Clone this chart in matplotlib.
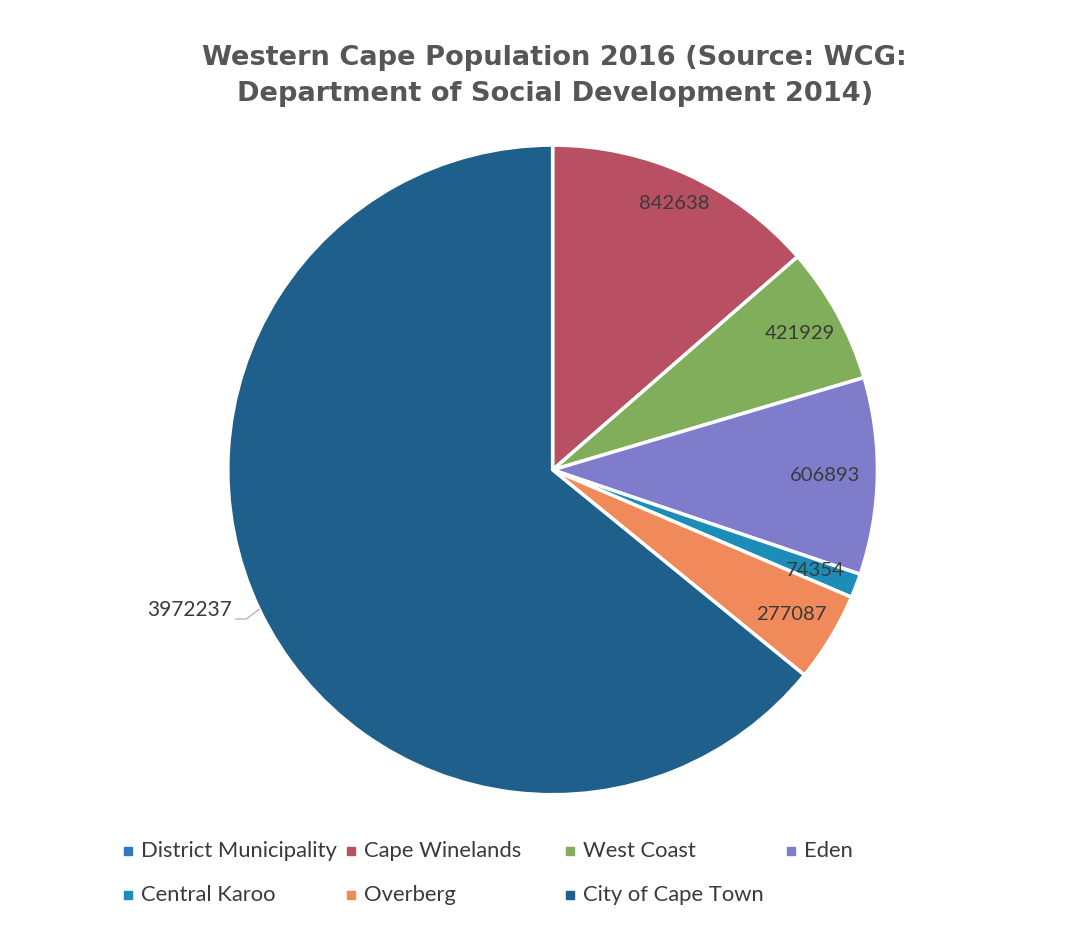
import numpy as np
import matplotlib.pyplot as plt
from matplotlib.patches import Rectangle

# Population par district (WCG, 2014)
districts = ["District Municipality", "Cape Winelands", "West Coast", "Eden",
             "Central Karoo", "Overberg", "City of Cape Town"]
population = [0, 842638, 421929, 606893, 74354, 277087, 3972237]
couleurs = ["#2f78c2", "#b84f63", "#80ae5a", "#7f7dcb",
            "#1b8db8", "#f08a5a", "#1f5f8b"]

fig = plt.figure(figsize=(10.9, 9.25), dpi=100)
ax = fig.add_axes([0.209, 0.1405, 0.596, 0.703])

# Les secteurs vides ne sont pas tracés (mais restent dans la légende)
vals = [v for v in population if v > 0]
cols = [c for v, c in zip(population, couleurs) if v > 0]

wedges, _ = ax.pie(vals, colors=cols, startangle=90, counterclock=False,
                   radius=1.0, wedgeprops=dict(edgecolor='white', linewidth=2.5))
ax.set_xlim(-1, 1)
ax.set_ylim(-1, 1)
ax.set_aspect('equal')
ax.axis('off')

# Étiquettes de valeurs à l'intérieur du bord
dist = [0.90, 0.87, 0.84, 0.865, 0.86]
for w, v, d in zip(wedges[:-1], vals[:-1], dist):
  a = np.deg2rad((w.theta1 + w.theta2) / 2)
  ax.text(d * np.cos(a), d * np.sin(a), f"{v}", ha='center', va='center',
          fontsize=14.6, color='#3a3a3a', family='Lato')

# Grand secteur : étiquette à l'extérieur avec ligne de rappel
w = wedges[-1]
a = np.deg2rad((w.theta1 + w.theta2) / 2)
x0, y0 = 1.0 * np.cos(a), 1.0 * np.sin(a)
ax.plot([x0, x0 - 0.04, x0 - 0.072], [y0, y0 - 0.03, y0 - 0.03],
        color='#a6a6a6', lw=0.8, clip_on=False)
ax.text(x0 - 0.085, y0 - 0.003, f"{vals[-1]}", ha='right', va='center',
        fontsize=15, color='#3a3a3a', family='Lato')

fig.text(0.509, 0.918, "Western Cape Population 2016 (Source: WCG:\nDepartment of Social Development 2014)",
         ha='center', va='center', fontsize=19.6, fontweight='bold', color='#565656',
         linespacing=1.48)

# Légende sur une grille à colonnes fixes
col_x = [128, 351, 570, 791]
row_y = [851, 895]
W, H = 1090, 925
for i, (nom, c) in enumerate(zip(districts, couleurs)):
  x = col_x[i % 4]
  y = row_y[i // 4]
  fig.patches.append(Rectangle(((x - 4) / W, 1 - (y + 4) / H), 8 / W, 8 / H,
                               transform=fig.transFigure, color=c))
  fig.text((x + 13) / W, 1 - y / H, nom, ha='left', va='center',
           fontsize=15.8, color='#3a3a3a', family='Lato')

plt.savefig('out.png', dpi=100, facecolor='white')
